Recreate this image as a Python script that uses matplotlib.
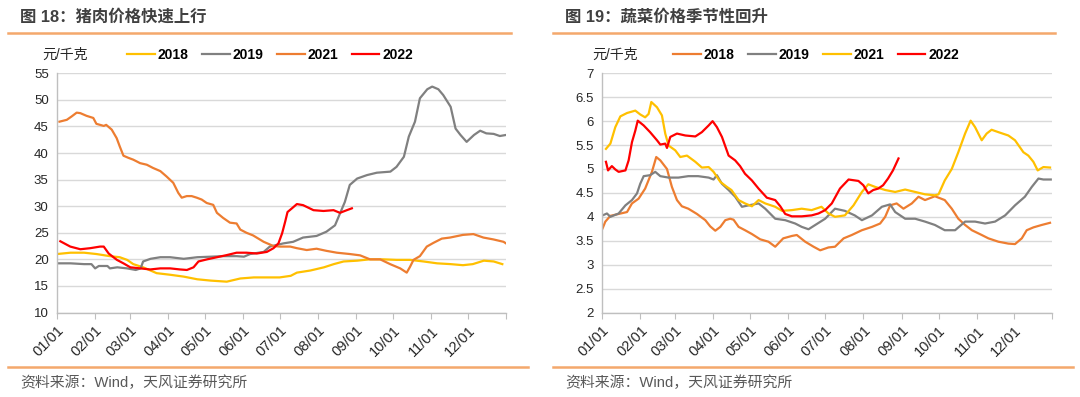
import matplotlib
matplotlib.use("Agg")
import matplotlib.pyplot as plt
from matplotlib.lines import Line2D

plt.rcParams['font.family'] = ['Liberation Sans', 'Noto Sans CJK SC', 'DejaVu Sans']

# ---------------- data ----------------
month_ticks = [0, 31, 59, 90, 120, 151, 181, 212, 243, 273, 304, 334, 365]
month_labels = ['01/01', '02/01', '03/01', '04/01', '05/01', '06/01', '07/01',
                '08/01', '09/01', '10/01', '11/01', '12/01', '']

# Left chart: pork prices (元/千克)
pork_2018_x = [0, 11, 22, 32, 43, 51, 57, 62, 70, 81, 92, 103, 114, 125, 138, 149, 160, 171, 181,
               190, 195, 206, 217, 225, 233, 244, 254, 265, 276, 287, 298, 309, 320, 330, 338, 347, 355, 362]
pork_2018_y = [21.0, 21.25, 21.25, 21.0, 20.6, 20.4, 19.9, 19.1, 18.5, 17.4, 17.1, 16.75, 16.25, 16.0, 15.8,
               16.4, 16.6, 16.6, 16.6, 16.9, 17.5, 17.9, 18.5, 19.1, 19.6, 19.75, 20.0, 20.0, 19.9, 19.9,
               19.6, 19.25, 19.1, 18.9, 19.1, 19.75, 19.6, 19.1]

pork_2019_x = [0, 11, 22, 28, 31, 34, 41, 43, 49, 57, 64, 68, 70, 76, 84, 92, 103, 114, 125, 135, 146,
               152, 157, 168, 173, 184, 192, 200, 211, 219, 226, 230, 234, 238, 244, 252, 260, 271, 276,
               282, 286, 291, 295, 301, 305, 310, 314, 320, 324, 328, 333, 339, 344, 349, 355, 360, 365]
pork_2019_y = [19.25, 19.25, 19.1, 19.1, 18.3, 18.75, 18.75, 18.3, 18.5, 18.3, 18.0, 18.3, 19.6, 20.1,
               20.4, 20.4, 20.1, 20.4, 20.5, 20.6, 20.6, 20.5, 21.0, 21.4, 22.4, 23.0, 23.3, 24.1, 24.4,
               25.2, 26.4, 28.6, 30.8, 34.0, 35.2, 35.85, 36.3, 36.5, 37.4, 39.3, 43.1, 45.9, 50.3, 52.0,
               52.5, 52.0, 50.9, 48.7, 44.6, 43.4, 42.1, 43.4, 44.2, 43.7, 43.6, 43.2, 43.4]

pork_2021_x = [2, 8, 12, 16, 19, 24, 29.5, 32, 38, 40, 44.5, 48.5, 51, 54, 58, 62, 65, 67.5, 73, 78,
               84, 89, 94.5, 98.6, 101.4, 105.5, 109.5, 113.6, 117.6, 121.7, 127, 130, 135, 140.6, 146,
               149, 154, 159.4, 168, 176, 181.4, 189.6, 195, 203, 211, 219, 227.5, 238, 246.4, 254.5,
               262.7, 270.8, 279, 284.3, 287, 289.8, 295, 300.6, 306, 312.8, 319.5, 330, 338.5, 346.6,
               354.7, 363, 365]
pork_2021_y = [45.9, 46.25, 46.9, 47.6, 47.5, 47.0, 46.6, 45.5, 45.1, 45.3, 44.4, 42.8, 41.25, 39.5,
               39.1, 38.75, 38.4, 38.1, 37.8, 37.2, 36.6, 35.6, 34.4, 32.5, 31.6, 31.9, 31.9, 31.6, 31.25,
               30.6, 30.25, 28.75, 27.8, 26.9, 26.75, 25.6, 25.0, 24.5, 23.3, 22.5, 22.4, 22.4, 22.1,
               21.75, 22.0, 21.6, 21.25, 21.0, 20.75, 20.0, 20.0, 19.1, 18.3, 17.5, 18.6, 19.9, 20.6,
               22.4, 23.1, 23.9, 24.1, 24.6, 24.75, 24.1, 23.75, 23.3, 23.0]

pork_2022_x = [2.7, 10.8, 19, 27, 35, 38, 42, 48.7, 54, 59.6, 67.7, 75.8, 84, 92, 100, 105.6, 111, 115,
               122, 130, 138, 146, 154, 162.5, 170.6, 176, 180, 183, 185.5, 187.4, 191, 195, 200, 208.5,
               216.6, 224.8, 230, 235.6, 239.7]
pork_2022_y = [23.4, 22.4, 21.9, 22.1, 22.4, 22.4, 21.1, 19.9, 19.25, 18.5, 18.3, 18.1, 18.3, 18.3,
               18.1, 18.0, 18.5, 19.6, 20.0, 20.4, 20.8, 21.25, 21.25, 21.1, 21.4, 22.1, 23.0, 24.9,
               27.1, 28.9, 29.6, 30.4, 30.2, 29.25, 29.1, 29.25, 28.75, 29.25, 29.6]

# Right chart: vegetable prices (元/千克)
veg_2018_x = [0.5, 2.7, 6.8, 13.5, 20.3, 24.3, 29.7, 35, 40.5, 44, 47.3, 52.7, 56.7, 60.8, 64.8, 70,
              77, 83.8, 87.8, 91.9, 96, 100, 104, 106.7, 110.8, 116, 121.6, 128.3, 135, 140.5, 147, 154,
              158, 164.8, 171.6, 177, 183.7, 189, 196, 202.6, 210.8, 219, 225.6, 229.7, 233.7, 239,
              244.5, 251.3, 256.7, 262, 270, 278, 283.7, 289, 294.5, 300, 308, 313.4, 321.5, 329.6,
              335, 340.5, 344.5, 350, 356.7, 363.4]
veg_2018_y = [3.76, 3.9, 4.02, 4.06, 4.1, 4.28, 4.38, 4.59, 4.94, 5.25, 5.18, 5.0, 4.625, 4.35, 4.22,
              4.17, 4.06, 3.93, 3.8, 3.71, 3.79, 3.93, 3.96, 3.94, 3.79, 3.72, 3.64, 3.53, 3.48, 3.375,
              3.55, 3.6, 3.62, 3.48, 3.375, 3.3, 3.36, 3.375, 3.55, 3.62, 3.72, 3.79, 3.86, 4.0, 4.24,
              4.28, 4.17, 4.28, 4.42, 4.35, 4.43, 4.35, 4.17, 3.96, 3.83, 3.72, 3.62, 3.55, 3.48, 3.44,
              3.43, 3.55, 3.72, 3.78, 3.83, 3.875]

veg_2019_x = [0.5, 4, 6.8, 13.5, 19, 24.3, 28.4, 31, 33.8, 39, 43.2, 47.3, 54, 62, 70, 78, 86.5, 90.5,
              93.2, 97.3, 102.7, 108, 113.5, 119, 127, 132.4, 140.5, 148.6, 156.7, 162, 167.5, 173,
              181, 189, 197, 205, 210.8, 219, 227, 233.7, 237.8, 245.9, 254, 262, 270, 278, 286.4,
              294.5, 302.6, 310.7, 318.8, 327, 335, 343, 348.6, 354, 358, 364]
veg_2019_y = [4.03, 4.07, 4.0, 4.07, 4.24, 4.35, 4.49, 4.69, 4.85, 4.87, 4.94, 4.85, 4.82, 4.82, 4.85,
              4.85, 4.82, 4.78, 4.87, 4.69, 4.56, 4.42, 4.21, 4.24, 4.28, 4.17, 3.96, 3.93, 3.86, 3.79,
              3.74, 3.83, 3.96, 4.17, 4.125, 4.03, 3.93, 4.03, 4.21, 4.26, 4.1, 3.96, 3.96, 3.9, 3.83,
              3.72, 3.72, 3.9, 3.9, 3.86, 3.9, 4.03, 4.24, 4.42, 4.625, 4.8, 4.78, 4.78]

veg_2021_x = [3.2, 6.8, 10.8, 14.9, 20.3, 27, 31, 35, 37.8, 40, 44.6, 48.6, 51.3, 54, 59.4, 63.5, 68.9,
              75.7, 81, 86.5, 90.5, 96, 101.3, 105, 110.8, 116, 121.6, 127, 132.4, 140.5, 146, 154,
              162, 170, 178, 183.7, 189, 197, 204, 210.8, 216, 221.6, 229.7, 237.8, 245.9, 254, 262,
              270, 273, 278, 283.7, 289, 294.5, 299, 302.6, 308, 312, 316, 321.5, 329.6, 335, 341.8,
              345.8, 349.9, 353.4, 358, 363.4]
veg_2021_y = [5.42, 5.53, 5.875, 6.1, 6.17, 6.22, 6.14, 6.08, 6.15, 6.4, 6.29, 6.12, 5.74, 5.49, 5.39,
              5.25, 5.28, 5.15, 5.03, 5.04, 4.94, 4.73, 4.625, 4.56, 4.35, 4.28, 4.22, 4.35, 4.28, 4.21,
              4.125, 4.14, 4.17, 4.14, 4.21, 4.07, 4.0, 4.03, 4.24, 4.52, 4.68, 4.625, 4.56, 4.52, 4.57,
              4.52, 4.47, 4.45, 4.47, 4.76, 5.0, 5.35, 5.74, 6.01, 5.875, 5.6, 5.74, 5.82, 5.77, 5.7,
              5.6, 5.35, 5.28, 5.15, 4.97, 5.04, 5.03]

veg_2022_x = [3.2, 4.9, 8, 10.8, 13.5, 19, 21.6, 24.3, 27, 29, 33.8, 39, 44.6, 47.3, 51.3, 52.7, 55.4,
              60.8, 67.6, 75.7, 81, 86.5, 89.7, 93.2, 97.3, 102.7, 108, 112, 116, 121.6, 127, 133.7,
              140.5, 144.6, 148.6, 154, 162, 170, 175.6, 181, 186.4, 193, 200, 208, 212, 216, 220, 224,
              228, 232, 236, 240.5]
veg_2022_y = [5.15, 4.97, 5.06, 4.99, 4.94, 4.97, 5.18, 5.56, 5.8, 6.01, 5.91, 5.77, 5.6, 5.51, 5.53,
              5.44, 5.67, 5.74, 5.7, 5.68, 5.77, 5.91, 6.0, 5.875, 5.67, 5.28, 5.18, 5.06, 4.9, 4.76,
              4.59, 4.4, 4.35, 4.22, 4.06, 4.01, 4.01, 4.03, 4.07, 4.14, 4.28, 4.59, 4.78, 4.75, 4.66,
              4.49, 4.56, 4.59, 4.66, 4.8, 4.97, 5.22]

# ---------------- style ----------------
YELLOW = '#FFC000'
GRAY = '#808080'
ORANGE = '#ED7D31'
RED = '#FF0000'
RULE = '#F4A86C'
TITLE_C = '#404040'
TEXT_C = '#262626'

W, H = 1080, 397
fig = plt.figure(figsize=(W / 100, H / 100), dpi=100)


def fx(px):
    return px / W


def fy(py):
    return 1 - py / H


def setup_axes(ax, ylim, yticks, yfmt):
    ax.set_xlim(0, 365)
    ax.set_ylim(*ylim)
    ax.set_yticks(yticks)
    ax.set_yticklabels([yfmt(v) for v in yticks])
    ax.set_xticks(month_ticks)
    ax.set_xticklabels(month_labels, rotation=45, ha='right', rotation_mode='anchor')
    ax.grid(axis='y', color='#D9D9D9', linewidth=1.0)
    ax.set_axisbelow(True)
    for s in ['top', 'right']:
        ax.spines[s].set_visible(False)
    for s in ['left', 'bottom']:
        ax.spines[s].set_color('#BFBFBF')
        ax.spines[s].set_linewidth(1.0)
    ax.tick_params(axis='y', length=0, pad=6, labelsize=9.5, labelcolor=TEXT_C)
    ax.tick_params(axis='x', length=4, color='#BFBFBF', pad=4, labelsize=10.5, labelcolor=TEXT_C)


def panel(ax_rect, series, ylim, yticks, yfmt, title, title_x, rule_x, rule_bx, unit_x, legend_x):
    ax = fig.add_axes(ax_rect)
    setup_axes(ax, ylim, yticks, yfmt)
    handles = []
    for xs, ys, color, label in series:
        ax.plot(xs, ys, color=color, linewidth=1.6, label=label, solid_joinstyle='round')
        handles.append(Line2D([], [], color=color, linewidth=1.6))
    labels = [s[3] for s in series]
    # title and rules
    fig.text(fx(title_x), fy(17), title, fontsize=11.8, fontweight='bold', color=TITLE_C,
             ha='left', va='center')
    fig.add_artist(Line2D([fx(rule_x[0]), fx(rule_x[1])], [fy(33), fy(33)], color=RULE, linewidth=1.8))
    fig.add_artist(Line2D([fx(rule_bx[0]), fx(rule_bx[1])], [fy(367), fy(367)], color=RULE, linewidth=1.8))
    fig.text(fx(title_x), fy(383), '资料来源：Wind，天风证券研究所', fontsize=10.7, color='#595959',
             ha='left', va='center')
    # unit label
    fig.text(fx(unit_x), fy(55), '元/千克', fontsize=10, color=TEXT_C, ha='left', va='center')
    # legend
    fig.legend(handles, labels, loc='center left', bbox_to_anchor=(fx(legend_x), fy(55)),
               ncol=4, frameon=False, borderpad=0, borderaxespad=0, handlelength=2.0,
               handletextpad=0.22, columnspacing=0.95,
               prop={'size': 10, 'weight': 'bold', 'family': ['Liberation Sans', 'Noto Sans CJK SC']})
    return ax


ax_top, ax_bot = 73.3, 312.5

panel([fx(57), fy(ax_bot), fx(506) - fx(57), fy(ax_top) - fy(ax_bot)],
      [(pork_2018_x, pork_2018_y, YELLOW, '2018'),
       (pork_2019_x, pork_2019_y, GRAY, '2019'),
       (pork_2021_x, pork_2021_y, ORANGE, '2021'),
       (pork_2022_x, pork_2022_y, RED, '2022')],
      (10, 55), [10, 15, 20, 25, 30, 35, 40, 45, 50, 55], lambda v: f'{v:g}',
      '图 18：猪肉价格快速上行', 20, (8, 511), (8, 528), 42, 127)

panel([fx(602), fy(ax_bot), fx(1052) - fx(602), fy(ax_top) - fy(ax_bot)],
      [(veg_2018_x, veg_2018_y, ORANGE, '2018'),
       (veg_2019_x, veg_2019_y, GRAY, '2019'),
       (veg_2021_x, veg_2021_y, YELLOW, '2021'),
       (veg_2022_x, veg_2022_y, RED, '2022')],
      (2, 7), [2, 2.5, 3, 3.5, 4, 4.5, 5, 5.5, 6, 6.5, 7], lambda v: f'{v:g}',
      '图 19：蔬菜价格季节性回升', 565, (553, 1055), (553, 1073), 592, 673)

fig.savefig('out.png', dpi=100)
